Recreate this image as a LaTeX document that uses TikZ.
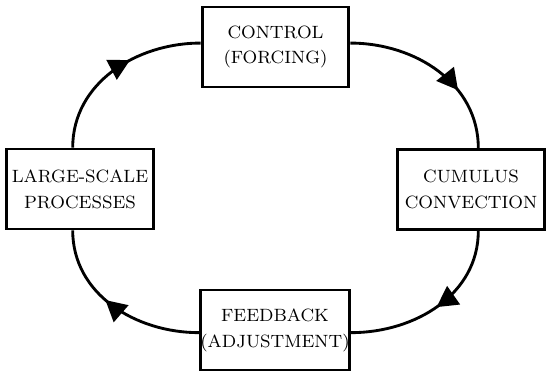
\documentclass[tikz,border=0pt]{standalone}
\usepackage{tikz}
\usetikzlibrary{arrows.meta,decorations.markings}

\begin{document}
\begin{tikzpicture}[
      x=0.016cm,y=0.016cm,
      every node/.style={font=\fontsize{8.1}{11.8}\selectfont},
      stage/.style={draw=black,line width=1.3pt,rectangle,align=center,minimum width=2.35cm,minimum height=1.28cm,inner sep=0pt},
      cycarrow/.style={draw=black,line width=1.3pt,postaction={decorate},
        decoration={markings,mark=at position #1 with {\arrow{Triangle[length=9.5pt,width=10pt]}}}}
    ]
    \useasboundingbox (0,0) rectangle (550,380);
    % the four stages of the loop
    \node[stage] (ctrl) at (275.5,333) {CONTROL\\(FORCING)};
    \node[stage] (cumulus) at (471,190.5) {CUMULUS\\CONVECTION};
    \node[stage] (feedback) at (275,50) {FEEDBACK\\(ADJUSTMENT)};
    \node[stage] (largescale) at (80,191) {LARGE-SCALE\\PROCESSES};
    % clockwise loop
    \draw[cycarrow=0.66] (ctrl.3) to[out=0,in=90] (cumulus.80);
    \draw[cycarrow=0.5] (cumulus.280) to[out=-90,in=0] (feedback.-2);
    \draw[cycarrow=0.56] (feedback.182) to[out=180,in=-90] (largescale.260);
    \draw[cycarrow=0.6] (largescale.100) to[out=90,in=180] (ctrl.177);
  \end{tikzpicture}
\end{document}
